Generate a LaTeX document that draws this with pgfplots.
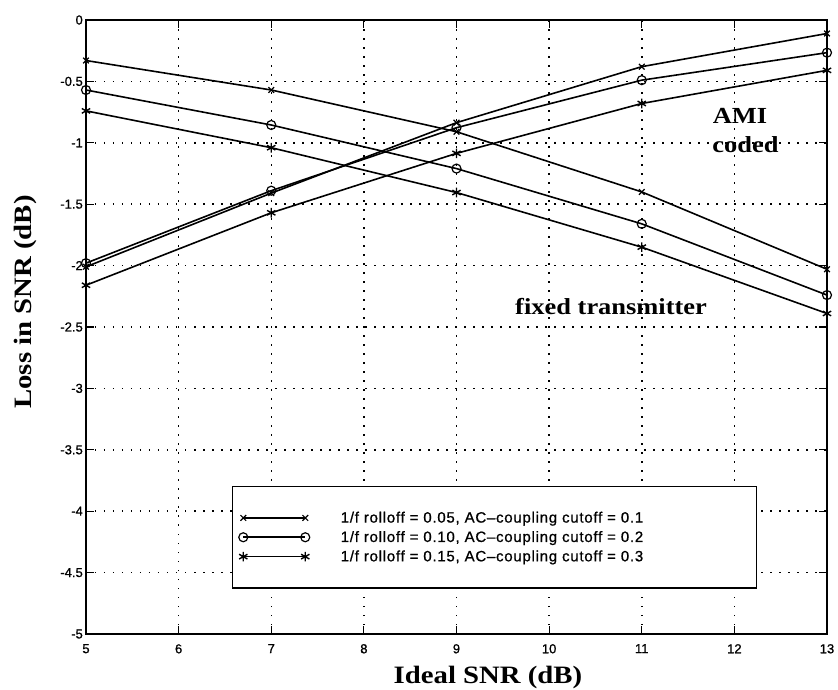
\documentclass[border=0pt]{standalone}
\usepackage{fontspec}
\usepackage{pgfplots}
\pgfplotsset{compat=1.18}
\setmainfont{Liberation Serif}
\newfontfamily\tickfont[FakeBold=1]{Liberation Sans}
\newfontfamily\legfont[LetterSpace=5, FakeBold=0.8]{Liberation Sans}
\newfontfamily\labfont[FakeStretch=1.15]{Liberation Serif}
\newcommand{\labsize}{\labfont\bfseries\fontsize{23bp}{27bp}\selectfont}
\newcommand{\axlabsize}{\labfont\bfseries\fontsize{25bp}{29bp}\selectfont}
\begin{document}
\begin{tikzpicture}
\useasboundingbox (-86bp,-56bp) rectangle (752bp,634bp);
\begin{axis}[
  at={(0bp,0bp)}, anchor=south west,
  scale only axis, width=741bp, height=614bp,
  xmin=5, xmax=13, ymin=-5, ymax=0,
  xtick={5,6,7,8,9,10,11,12,13},
  xticklabels={5,6,7,8,9,10,11,12,13},
  ytick={-5,-4.5,-4,-3.5,-3,-2.5,-2,-1.5,-1,-0.5,0},
  yticklabels={-5,-4.5,-4,-3.5,-3,-2.5,-2,-1.5,-1,-0.5,0},
  tick align=inside, major tick length=8bp,
  xtick pos=both, ytick pos=both,
  xticklabel pos=lower, yticklabel pos=left,
  grid=major,
  major grid style={black, line width=1.5bp, dash pattern=on 1.5bp off 7.5bp},
  axis line style={line width=1.5bp},
  every tick/.style={black, line width=1.2bp},
  ticklabel style={font=\tickfont\fontsize{13bp}{15bp}\selectfont},
  xticklabel style={inner sep=0bp, yshift=-10bp},
  yticklabel style={inner sep=0bp, xshift=-3bp},
  xlabel={Ideal SNR (dB)},
  ylabel={Loss in SNR (dB)},
  label style={font=\axlabsize},
  xlabel style={at={(axis description cs:0.5425,-0.0814)}, anchor=base},
  ylabel style={at={(axis description cs:-0.0729,0.5407)}, anchor=base, rotate=0},
  clip=false,
  legend cell align=left,
  legend style={at={(axis cs:6.577,-3.795)}, anchor=north west,
    draw=black, line width=1.4bp, fill=white,
    inner xsep=6bp, inner ysep=25bp, row sep=7bp, column sep=31bp,
    nodes={inner sep=0bp},
    font=\legfont\fontsize{15bp}{17bp}\selectfont},
  legend image code/.code={\draw[mark repeat=2, mark phase=1, #1]
     plot coordinates {(0bp,0bp) (31bp,0bp) (62bp,0bp)};},
]
% fixed transmitter
\addplot[black, line width=1.6bp, mark=x, mark size=4bp, mark options={line width=1.2bp}]
  coordinates {(5,-0.33) (7,-0.57) (9,-0.91) (11,-1.40) (13,-2.03)};
\addlegendentry{\makebox[410bp][l]{1/f rolloff = 0.05, AC–coupling cutoff = 0.1}}
\addplot[black, line width=1.6bp, mark=o, mark size=4.5bp, mark options={line width=1.2bp}]
  coordinates {(5,-0.57) (7,-0.855) (9,-1.21) (11,-1.66) (13,-2.24)};
\addlegendentry{\makebox[410bp][l]{1/f rolloff = 0.10, AC–coupling cutoff = 0.2}}
\addplot[black, line width=1.6bp, mark=asterisk, mark size=4.8bp, mark options={line width=1.4bp}]
  coordinates {(5,-0.74) (7,-1.04) (9,-1.405) (11,-1.85) (13,-2.39)};
\addlegendentry{\makebox[410bp][l]{1/f rolloff = 0.15, AC–coupling cutoff = 0.3}}
% AMI coded
\addplot[black, line width=1.6bp, mark=x, mark size=4bp, mark options={line width=1.2bp}, forget plot]
  coordinates {(5,-2.01) (7,-1.41) (9,-0.836) (11,-0.38) (13,-0.11)};
\addplot[black, line width=1.6bp, mark=o, mark size=4.5bp, mark options={line width=1.2bp}, forget plot]
  coordinates {(5,-1.98) (7,-1.39) (9,-0.877) (11,-0.49) (13,-0.266)};
\addplot[black, line width=1.6bp, mark=asterisk, mark size=4.8bp, mark options={line width=1.4bp}, forget plot]
  coordinates {(5,-2.16) (7,-1.57) (9,-1.086) (11,-0.68) (13,-0.41)};
\node[font=\labsize, anchor=base, inner sep=0bp] at (axis cs:12.06,-0.839) {AMI};
\node[font=\labsize, anchor=base, inner sep=0bp] at (axis cs:12.12,-1.075) {coded};
\node[font=\labsize, anchor=base east, inner sep=0bp] at (axis cs:11.706,-2.40) {fixed transmitter};
\end{axis}
\end{tikzpicture}
\end{document}
